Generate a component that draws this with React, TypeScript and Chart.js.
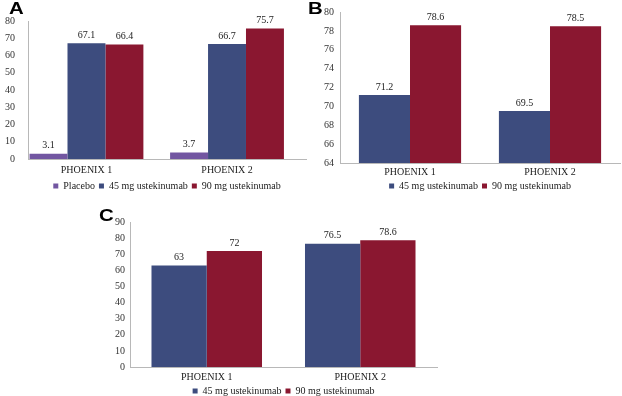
import React, { useEffect, useRef } from "react";
import { Chart, registerables } from "chart.js";
Chart.register(...registerables);

const categories = ["PHOENIX 1", "PHOENIX 2"];
const seriesNames = ["Placebo", "45 mg ustekinumab", "90 mg ustekinumab"];
const aPlacebo = [3.1, 3.7];
const a45 = [67.1, 66.7];
const a90 = [66.4, 75.7];
const b45 = [71.2, 69.5];
const b90 = [78.6, 78.5];
const c45 = [63, 76.5];
const c90 = [72, 78.6];

const PURPLE = "#7256a1";
const BLUE = "#3d4c7e";
const RED = "#8a1730";
const FONT = "'Liberation Serif', 'Times New Roman', serif";

const valueLabels = {
  id: "valueLabels",
  afterDatasetsDraw(chart: any) {
    const ctx = chart.ctx;
    ctx.save();
    ctx.font = `10px ${FONT}`;
    ctx.fillStyle = "#222";
    ctx.textAlign = "center";
    ctx.textBaseline = "bottom";
    chart.data.datasets.forEach((ds: any, i: number) => {
      const meta = chart.getDatasetMeta(i);
      meta.data.forEach((el: any, j: number) => {
        const d = ds.data[j];
        const v = typeof d === "object" ? d.y : d;
        ctx.fillText(String(v), el.x, el.y - 3);
      });
    });
    ctx.restore();
  },
};

type Cfg = {
  datasets: any[];
  min: number;
  max: number;
  step: number;
  yWidth: number;
  yPad: number;
  catPct: number;
  padding: any;
  xHeight: number;
  xPad: number;
  xRange?: [number, number];
};

function makeChart(canvas: HTMLCanvasElement, c: Cfg) {
  const xScale: any = {
    grid: { display: false, drawTicks: false },
    border: { display: true, color: "#b8b8b8" },
    ticks: { color: "#222", font: { family: FONT, size: 10 }, padding: c.xPad, autoSkip: false, maxRotation: 0 },
    afterFit: (s: any) => {
      s.height = c.xHeight;
    },
  };
  if (c.xRange) {
    xScale.type = "linear";
    xScale.offset = false;
    xScale.grid.offset = false;
    xScale.bounds = "ticks";
    xScale.min = c.xRange[0];
    xScale.max = c.xRange[1];
    xScale.afterBuildTicks = (s: any) => {
      s.ticks = categories.map((_, i) => ({ value: i }));
    };
    xScale.ticks.callback = (v: any) => categories[v];
  }
  return new Chart(canvas, {
    type: "bar",
    data: { labels: categories, datasets: c.datasets },
    plugins: [valueLabels],
    options: {
      animation: false,
      responsive: false,
      maintainAspectRatio: false,
      layout: { padding: c.padding },
      datasets: { bar: { categoryPercentage: c.catPct, barPercentage: 1 } } as any,
      plugins: {
        tooltip: { enabled: false },
        legend: {
          position: "bottom",
          fullSize: false,
          labels: {
            boxWidth: 5,
            boxHeight: 5,
            padding: 4,
            color: "#222",
            font: { family: FONT, size: 10 },
          },
        },
      },
      scales: {
        x: xScale,
        y: {
          min: c.min,
          max: c.max,
          grid: { display: false, drawTicks: false },
          border: { display: true, color: "#b8b8b8" },
          ticks: {
            stepSize: c.step,
            autoSkip: false,
            color: "#333",
            font: { family: FONT, size: 10 },
            padding: c.yPad,
          },
          afterFit: (s: any) => {
            s.width = c.yWidth;
          },
        },
      },
    },
  });
}

function Panel(props: { left: number; top: number; w: number; h: number; cfg: Cfg }) {
  const ref = useRef<HTMLCanvasElement>(null);
  useEffect(() => {
    const ch = makeChart(ref.current!, props.cfg);
    return () => ch.destroy();
  }, []);
  return (
    <canvas
      ref={ref}
      width={props.w}
      height={props.h}
      style={{ position: "absolute", left: props.left, top: props.top, width: props.w, height: props.h }}
    />
  );
}

const letterStyle: React.CSSProperties = {
  position: "absolute",
  fontFamily: "'Liberation Sans', Arial, sans-serif",
  fontWeight: "bold",
  fontSize: 17,
  lineHeight: "17px",
  color: "#000",
  transform: "scaleX(1.2)",
  transformOrigin: "left top",
};

const pts = (arr: number[]) => arr.map((v, i) => ({ x: i, y: v }));

export default function App() {
  const cfgA: Cfg = {
    datasets: [
      { label: seriesNames[0], data: pts(aPlacebo), backgroundColor: PURPLE },
      { label: seriesNames[1], data: pts(a45), backgroundColor: BLUE },
      { label: seriesNames[2], data: pts(a90), backgroundColor: RED },
    ],
    min: 0,
    max: 80,
    step: 10,
    yWidth: 28,
    yPad: 13,
    catPct: 0.81,
    padding: { top: 21, right: 5, left: 0, bottom: 0 },
    xHeight: 18,
    xPad: 5,
    xRange: [-0.416, 1.562],
  };
  const cfgB: Cfg = {
    datasets: [
      { label: seriesNames[1], data: b45, backgroundColor: BLUE },
      { label: seriesNames[2], data: b90, backgroundColor: RED },
    ],
    min: 64,
    max: 80,
    step: 2,
    yWidth: 29,
    yPad: 6,
    catPct: 0.73,
    padding: { top: 6, right: 2, left: 0, bottom: 0 },
    xHeight: 14,
    xPad: 3,
  };
  const cfgC: Cfg = {
    datasets: [
      { label: seriesNames[1], data: c45, backgroundColor: BLUE },
      { label: seriesNames[2], data: c90, backgroundColor: RED },
    ],
    min: 0,
    max: 90,
    step: 10,
    yWidth: 30,
    yPad: 5,
    catPct: 0.72,
    padding: { top: 19, right: 83, left: 0, bottom: 0 },
    xHeight: 15,
    xPad: 4,
  };
  return (
    <div style={{ position: "fixed", left: 0, top: 0, width: 622, height: 396, background: "#fff", overflow: "hidden" }}>
      <Panel left={0} top={0} w={311} h={201} cfg={cfgA} />
      <Panel left={311} top={0} w={311} h={201} cfg={cfgB} />
      <Panel left={100} top={203} w={420} h={203} cfg={cfgC} />
      <div style={{ ...letterStyle, left: 9, top: 0 }}>A</div>
      <div style={{ ...letterStyle, left: 308, top: 0 }}>B</div>
      <div style={{ ...letterStyle, left: 99, top: 207 }}>C</div>
    </div>
  );
}
